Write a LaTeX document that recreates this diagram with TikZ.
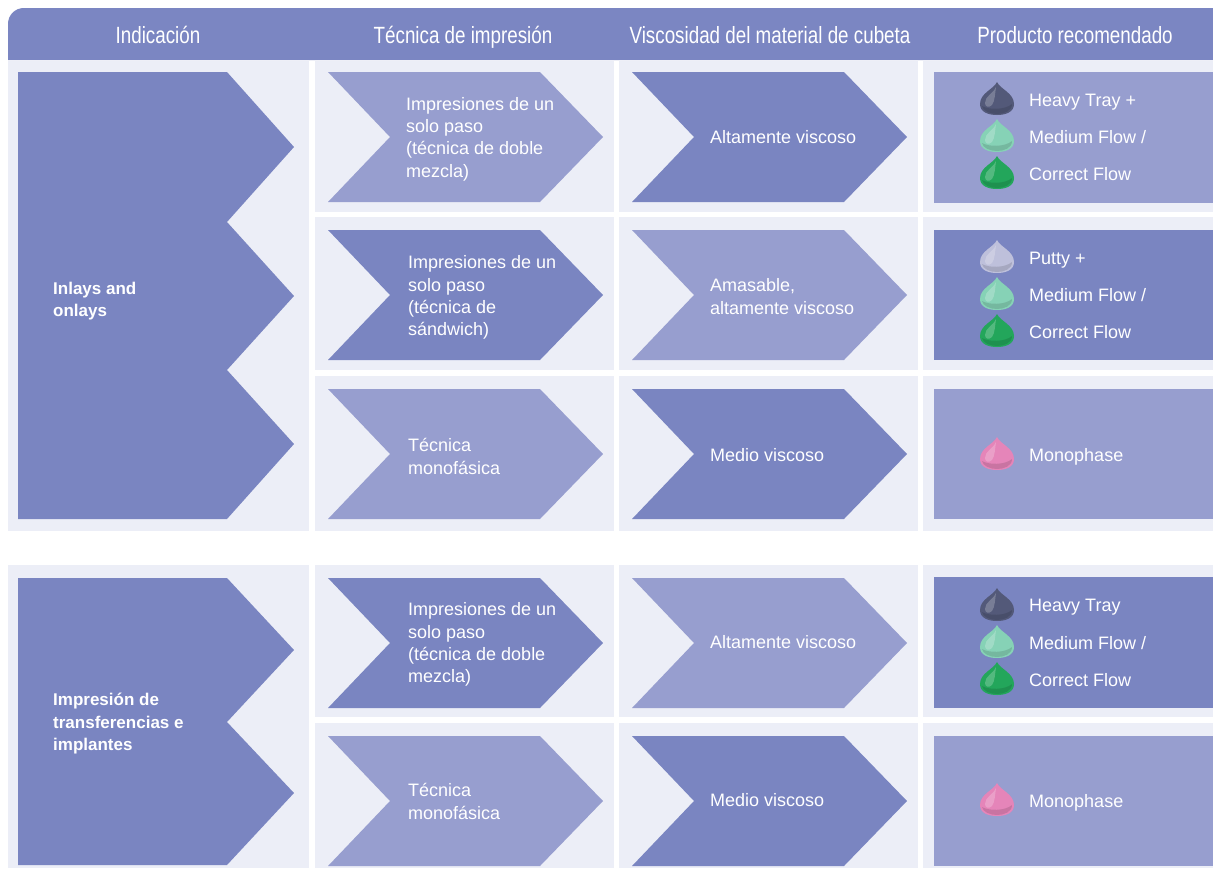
\documentclass[tikz,border=0pt]{standalone}
\usepackage{fontspec}
\setmainfont{Liberation Sans}
\newfontfamily\hdrfont[FakeStretch=0.8]{Liberation Sans}
\definecolor{hd}{HTML}{7B86C2}
\definecolor{dk}{HTML}{7A85C1}
\definecolor{lt}{HTML}{979ECF}
\definecolor{cellbg}{HTML}{ECEEF7}
\definecolor{bHeavy}{HTML}{535979}
\definecolor{bMed}{HTML}{86D2B6}
\definecolor{bCorr}{HTML}{23A65B}
\definecolor{bPutty}{HTML}{BEC0DB}
\definecolor{bMono}{HTML}{E585B9}
\newcommand\chevshape[3]{\fill[#1] (#2,#3) -- ++(212,0) -- ++(63,65) -- ++(-63,65) -- ++(-212,0) -- ++(62,-65) -- cycle;}
\begin{document}
\begin{tikzpicture}[x=1pt,y=-1pt,
  hdrtxt/.style={text=white,inner sep=0pt,text height=16.8pt,text depth=0pt,font=\hdrfont\fontsize{23.5}{26}\selectfont},
  bodytxt/.style={text=white,inner sep=0pt,anchor=west,align=left,font=\fontsize{18}{22.3}\selectfont},
  onetxt/.style={bodytxt,text height=12.9pt,text depth=0pt},
  boldtxt/.style={text=white,inner sep=0pt,anchor=west,align=left,font=\bfseries\fontsize{17}{22.5}\selectfont},
  cell/.style={fill=cellbg},
  pics/blob/.style={code={
    \fill[#1] (0,-17) .. controls (3,-10) and (17,-6) .. (17,5) .. controls (17,13) and (9,16) .. (0,16) .. controls (-9,16) and (-17,13) .. (-17,5) .. controls (-17,-6) and (-3,-10) .. (0,-17) -- cycle;
    \fill[white,opacity=0.22] (-1,-12) .. controls (-4,-5) and (-12,-3) .. (-12,4) .. controls (-12,8) and (-8,9) .. (-5,6) .. controls (-2,2) and (-2,-6) .. (-1,-12) -- cycle;
    \fill[black,opacity=0.12] (15,5) .. controls (15,12) and (7,15) .. (0,15) .. controls (-7,15) and (-14,12) .. (-15,7) .. controls (-8,11) and (8,11) .. (15,5) -- cycle;
  }}]
\useasboundingbox (0,0) rectangle (1213,868);
\fill[white] (0,0) rectangle (1213,868);
% header
\fill[hd] (8,60) -- (8,24) .. controls (8,15) and (15,8) .. (24,8) -- (1213,8) -- (1213,60) -- cycle;
\node[hdrtxt] (h1) at (158,35) {Indicación};
\node[hdrtxt] (h2) at (463,35) {Técnica de impresión};
\node[hdrtxt] (h3) at (770,35) {Viscosidad del material de cubeta};
\node[hdrtxt] (h4) at (1075,35) {Producto recomendado};
% section 1 cells
\fill[cell] (8,61) rectangle (309,531);
\foreach \xa/\xb in {315/614,619/918,923/1213}{
  \fill[cell] (\xa,61) rectangle (\xb,212);
  \fill[cell] (\xa,217) rectangle (\xb,370);
  \fill[cell] (\xa,376) rectangle (\xb,531);
}
% section 2 cells
\fill[cell] (8,565) rectangle (309,868);
\foreach \xa/\xb in {315/614,619/918,923/1213}{
  \fill[cell] (\xa,565) rectangle (\xb,717);
  \fill[cell] (\xa,723) rectangle (\xb,868);
}
% left chevrons
\fill[dk] (18,72) -- (227,72) -- (294,147) -- (227,222) -- (294,296) -- (227,370) -- (294,444) -- (227,519) -- (18,519) -- cycle;
\fill[dk] (18,578) -- (227,578) -- (294,650) -- (227,722) -- (294,793) -- (227,865) -- (18,865) -- cycle;
\node[boldtxt] (ind1) at (53,301) {Inlays and\\onlays};
\node[boldtxt] (ind2) at (53,724) {Impresión de\\transferencias e\\implantes};
% technique chevrons
\chevshape{lt}{328}{72}
\chevshape{dk}{328}{230}
\chevshape{lt}{328}{389}
\chevshape{dk}{328}{578}
\chevshape{lt}{328}{736}
\node[bodytxt] (t1) at (406,139) {Impresiones de un\\solo paso\\(técnica de doble\\mezcla)};
\node[bodytxt] (t2) at (408,297.5) {Impresiones de un\\solo paso\\(técnica de\\sándwich)};
\node[bodytxt] (t3) at (408,456.5) {Técnica\\monofásica};
\node[bodytxt] (t4) at (408,644.5) {Impresiones de un\\solo paso\\(técnica de doble\\mezcla)};
\node[bodytxt] (t5) at (408,801.5) {Técnica\\monofásica};
% viscosity chevrons
\chevshape{dk}{632}{72}
\chevshape{lt}{632}{230}
\chevshape{dk}{632}{389}
\chevshape{lt}{632}{578}
\chevshape{dk}{632}{736}
\node[onetxt] (v1) at (710,137) {Altamente viscoso};
\node[bodytxt] (v2) at (710,296.5) {Amasable,\\altamente viscoso};
\node[onetxt] (v3) at (710,455) {Medio viscoso};
\node[onetxt] (v4) at (710,642) {Altamente viscoso};
\node[onetxt] (v5) at (710,800) {Medio viscoso};
% product boxes
\fill[lt] (934,72) rectangle (1213,203);
\fill[dk] (934,230) rectangle (1213,360);
\fill[lt] (934,389) rectangle (1213,519);
\fill[dk] (934,577) rectangle (1213,708);
\fill[lt] (934,736) rectangle (1213,866);
% products
\pic at (997,99) {blob=bHeavy};
\pic at (997,136) {blob=bMed};
\pic at (997,173) {blob=bCorr};
\node[onetxt] (p1) at (1029,100) {Heavy Tray +};
\node[onetxt] (p2) at (1029,137) {Medium Flow /};
\node[onetxt] (p3) at (1029,174) {Correct Flow};
\pic at (997,257) {blob=bPutty};
\pic at (997,294) {blob=bMed};
\pic at (997,331) {blob=bCorr};
\node[onetxt] (p4) at (1029,258) {Putty +};
\node[onetxt] (p5) at (1029,295) {Medium Flow /};
\node[onetxt] (p6) at (1029,332) {Correct Flow};
\pic at (997,454) {blob=bMono};
\node[onetxt] (p7) at (1029,455) {Monophase};
\pic at (997,605) {blob=bHeavy};
\pic at (997,642) {blob=bMed};
\pic at (997,679) {blob=bCorr};
\node[onetxt] (p8) at (1029,605) {Heavy Tray};
\node[onetxt] (p9) at (1029,643) {Medium Flow /};
\node[onetxt] (p10) at (1029,680) {Correct Flow};
\pic at (997,800) {blob=bMono};
\node[onetxt] (p11) at (1029,801) {Monophase};
\end{tikzpicture}
\end{document}
